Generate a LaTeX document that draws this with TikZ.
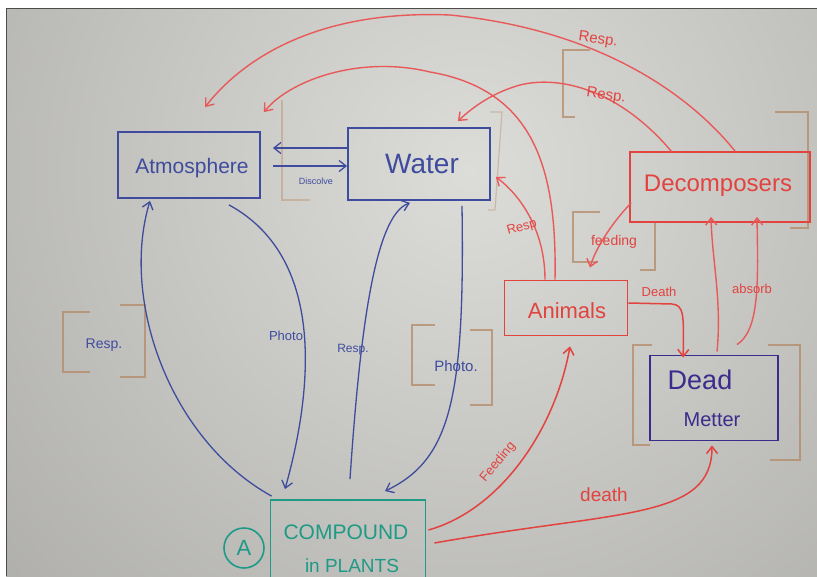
\documentclass[tikz,border=0pt]{standalone}
\usepackage{fontspec}
\setmainfont{Liberation Sans}
\usetikzlibrary{arrows.meta,calc}
\definecolor{bl}{HTML}{3F4C9E}
\definecolor{dm}{HTML}{3A2C8C}
\definecolor{rd}{HTML}{E2433F}
\definecolor{rl}{HTML}{E85A5A}
\definecolor{tl}{HTML}{1E9A86}
\definecolor{br}{HTML}{B48A66}
\definecolor{bgin}{HTML}{DCDCD8}
\definecolor{bgout}{HTML}{8A8986}
\tikzset{
  tip/.style={-{Straight Barb[length=7pt,width=11pt]}},
  bline/.style={draw=bl,line width=1.3pt},
  rline/.style={draw=rd,line width=1.5pt},
  rlight/.style={draw=rl,line width=1.4pt},
  boxb/.style={draw=bl,line width=1.8pt,inner sep=0pt},
  boxr/.style={draw=rd,line width=1.8pt,inner sep=0pt},
  brk/.style={draw=br,line width=1.4pt,opacity=0.75},
  brkf/.style={draw=br,line width=1.2pt,opacity=0.4},
  lblb/.style={text=bl,font=\fontsize{13}{15}\selectfont,inner sep=1pt},
  lblr/.style={text=rd,font=\fontsize{13}{15}\selectfont,inner sep=1pt}
}
\begin{document}
\begin{tikzpicture}[x=1pt,y=-1pt]
\useasboundingbox (0,0) rectangle (817,576);
\fill[white] (0,0) rectangle (817,576);
\begin{scope}
\clip (6,8) rectangle (817,576);
\shade[inner color=bgin,outer color=bgout] (470,170) circle (1150);
% faint brackets
\draw[brk] (90,312) -- (63,312) -- (63,372) -- (90,372);
\draw[brk] (120,305) -- (145,305) -- (145,377) -- (120,377);
\draw[brk] (435,325) -- (412,325) -- (412,385) -- (435,385);
\draw[brk] (470,330) -- (492,330) -- (492,405) -- (470,405);
\draw[brk] (652,345) -- (633,345) -- (633,445) -- (650,445);
\draw[brk] (768,345) -- (800,345) -- (800,460) -- (770,460);
\draw[brk] (775,112) -- (808,112) -- (808,228) -- (790,228);
\draw[brk] (600,212) -- (573,212) -- (573,262) -- (598,262);
\draw[brk] (635,222) -- (655,222) -- (655,270) -- (640,270);
\draw[brk] (590,50) -- (563,50) -- (563,117) -- (575,117);
\draw[brkf] (282,100) -- (282,200) -- (310,200);
\draw[brkf] (490,112) -- (502,112) -- (495,210) -- (488,210);
% boxes
\node[boxb,minimum width=142pt,minimum height=66pt] (atm) at (189,165) {};
\node[text=bl,font=\fontsize{21}{24}\selectfont] (atmt) at (192,168) {Atmosphere};
\node[boxb,minimum width=142pt,minimum height=72pt] (water) at (419,164) {};
\node[text=bl,font=\fontsize{28}{31}\selectfont] (watert) at (422,164) {Water};
\node[draw=tl,line width=1.8pt,inner sep=0pt,minimum width=155pt,minimum height=100pt] (comp) at (348,550) {};
\node[text=tl,font=\fontsize{21}{24}\selectfont] (compt1) at (346,532) {COMPOUND};
\node[text=tl,font=\fontsize{19}{22}\selectfont] (compt2) at (352,566) {in PLANTS};
\node[draw=tl,line width=1.6pt,circle,minimum size=40pt,inner sep=0pt,text=tl,font=\fontsize{22}{24}\selectfont] (ca) at (244,548) {A};
\node[boxr,minimum width=123pt,minimum height=55pt] (anim) at (566,308) {};
\node[text=rd,font=\fontsize{22}{25}\selectfont] (animt) at (567,311) {Animals};
\node[boxr,minimum width=180pt,minimum height=70pt] (decomp) at (720,187) {};
\node[text=rd,font=\fontsize{24}{27}\selectfont] (decompt) at (718,186) {Decomposers};
\node[draw=dm,line width=1.8pt,inner sep=0pt,minimum width=128pt,minimum height=85pt] (dead) at (714,398) {};
\node[text=dm,font=\fontsize{27}{30}\selectfont] (deadt1) at (700,380) {Dead};
\node[text=dm,font=\fontsize{20}{23}\selectfont] (deadt2) at (712,420) {Metter};
% blue connectors
\draw[bline,tip] ($(water.west)+(0,-16)$) -- ($(atm.east)+(12,-17)$);
\draw[bline,tip] ($(atm.east)+(12,1)$) -- ($(water.west)+(0,2)$);
\node[text=bl,font=\fontsize{9}{10}\selectfont] (disc) at (316,181) {Discolve};
\draw[bline,tip] ($(comp.north west)+(2,-3)$) .. controls (170,440) and (120,300) .. ($(atm.south)+(-39,2)$);
\draw[bline,tip] ($(atm.south)+(40,6)$) .. controls (330,260) and (310,400) .. ($(comp.north)+(-63,-10)$);
\draw[bline,tip] ($(comp.north)+(2,-20)$) .. controls (360,330) and (375,215) .. ($(water.south)+(-9,2)$);
\draw[bline,tip] ($(water.south)+(43,5)$) .. controls (465,400) and (450,460) .. ($(comp.north)+(37,-8)$);
\node[lblb,font=\fontsize{14}{16}\selectfont] (l1) at (104,345) {Resp.};
\node[lblb] (l2) at (286,336) {Photo};
\node[lblb,font=\fontsize{12}{14}\selectfont] (l3) at (353,350) {Resp.};
\node[lblb,font=\fontsize{15}{17}\selectfont] (l4) at (456,366) {Photo.};
% red connectors
\draw[rlight,tip] ($(decomp.north)+(15,0)$) .. controls (690,95) and (600,30) .. (450,15) .. controls (330,10) and (250,50) .. ($(atm.north)+(16,-24)$);
\draw[rlight,tip] ($(decomp.north)+(-48,1)$) .. controls (620,90) and (560,75) .. (520,85) .. controls (495,92) and (475,105) .. ($(water.north east)+(-33,-6)$);
\draw[rlight,tip] ($(anim.north)+(-11,0)$) .. controls (557,170) and (535,90) .. (430,72) .. controls (360,55) and (290,80) .. ($(atm.north east)+(3,-19)$);
\draw[rlight,tip] ($(anim.north)+(-21,0)$) .. controls (545,230) and (520,195) .. ($(water.east)+(5,13)$);
\draw[rlight,tip] ($(decomp.south west)+(2,-20)$) .. controls (610,225) and (595,250) .. ($(anim.north)+(24,-12)$);
\draw[rline,tip] ($(anim.east)+(0,-5)$) -- (672,304) .. controls (684,305) and (684,315) .. ($(dead.north west)+(34,3)$);
\draw[rlight,tip] ($(dead.north)+(3,-3)$) .. controls (722,300) and (712,260) .. ($(decomp.south)+(-9,-6)$);
\draw[rlight,tip] ($(dead.north)+(23,-10)$) .. controls (760,330) and (758,280) .. ($(decomp.south)+(37,-6)$);
\draw[rline,tip] ($(comp.east)+(2,-20)$) .. controls (500,510) and (555,430) .. ($(anim.south)+(4,10)$);
\draw[rline,tip] ($(comp.east)+(8,-7)$) .. controls (620,510) and (712,520) .. ($(dead.south)+(-2,4)$);
\node[lblr,font=\fontsize{15}{17}\selectfont,rotate=-8] (r1) at (598,40) {Resp.};
\node[lblr,font=\fontsize{15}{17}\selectfont,rotate=-8] (r2) at (606,96) {Resp.};
\node[lblr,rotate=15] (r3) at (522,228) {Resp};
\node[lblr,font=\fontsize{14}{16}\selectfont] (r4) at (614,242) {feeding};
\node[lblr] (r5) at (659,292) {Death};
\node[lblr] (r6) at (752,289) {absorb};
\node[lblr,rotate=50] (r7) at (498,462) {Feeding};
\node[lblr,font=\fontsize{19}{21}\selectfont] (r8) at (604,495) {death};
\end{scope}
\draw[black!70,line width=1pt] (6,576) -- (6,8) -- (817,8);
\end{tikzpicture}
\end{document}
